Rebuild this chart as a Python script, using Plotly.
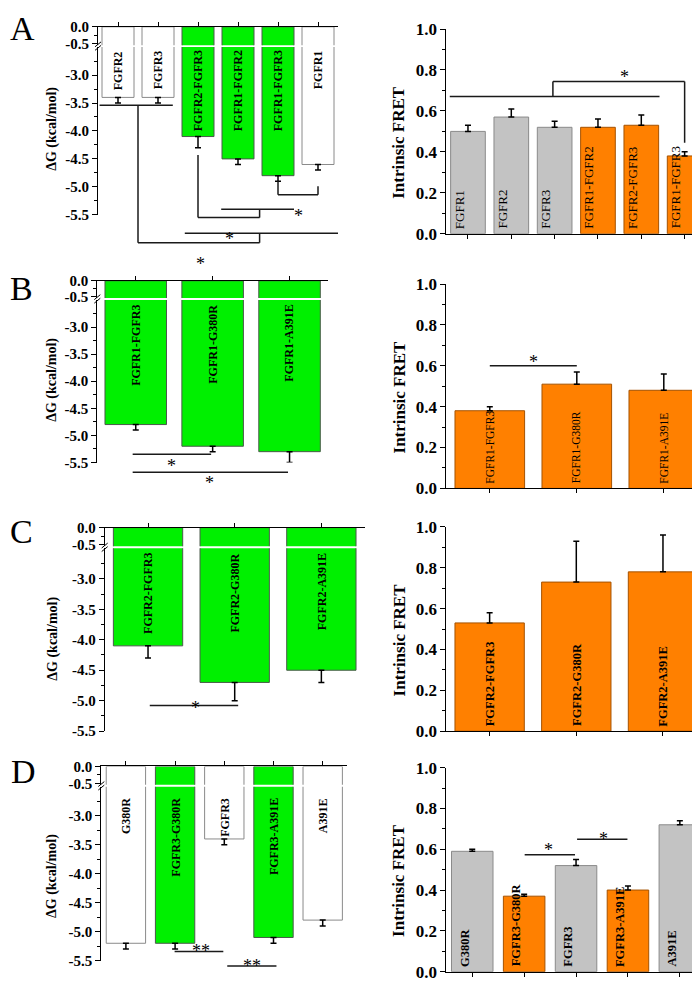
import plotly.graph_objects as go

W, H = 700, 981
FONT = "Liberation Serif, 'Times New Roman', serif"
GREEN = "#00F000"
ORANGE = "#FF8000"
GRAY = "#C3C3C3"
WHITE = "#FFFFFF"

# ---------------- data ----------------
# Panel A
A_dg_labels = ["FGFR2", "FGFR3", "FGFR2-FGFR3", "FGFR1-FGFR2", "FGFR1-FGFR3", "FGFR1"]
A_dg_values = [-3.4, -3.4, -4.1, -4.5, -4.8, -4.6]
A_dg_errors = [0.1, 0.1, 0.2, 0.1, 0.1, 0.1]
A_dg_kind = ["m", "m", "h", "h", "h", "m"]
A_fret_labels = ["FGFR1", "FGFR2", "FGFR3", "FGFR1-FGFR2", "FGFR2-FGFR3", "FGFR1-FGFR3"]
A_fret_values = [0.50, 0.57, 0.52, 0.52, 0.53, 0.38]
A_fret_errors = [0.03, 0.04, 0.03, 0.04, 0.05, 0.02]
A_fret_kind = ["m", "m", "m", "h", "h", "h"]

# Panel B
B_dg_labels = ["FGFR1-FGFR3", "FGFR1-G380R", "FGFR1-A391E"]
B_dg_values = [-4.8, -5.2, -5.3]
B_dg_errors = [0.1, 0.1, 0.2]
B_dg_kind = ["h", "h", "h"]
B_fret_labels = ["FGFR1-FGFR3", "FGFR1-G380R", "FGFR1-A391E"]
B_fret_values = [0.38, 0.51, 0.48]
B_fret_errors = [0.02, 0.06, 0.08]
B_fret_kind = ["h", "h", "h"]

# Panel C
C_dg_labels = ["FGFR2-FGFR3", "FGFR2-G380R", "FGFR2-A391E"]
C_dg_values = [-4.1, -4.7, -4.5]
C_dg_errors = [0.2, 0.3, 0.2]
C_dg_kind = ["h", "h", "h"]
C_fret_labels = ["FGFR2-FGFR3", "FGFR2-G380R", "FGFR2-A391E"]
C_fret_values = [0.53, 0.73, 0.78]
C_fret_errors = [0.05, 0.20, 0.18]
C_fret_kind = ["h", "h", "h"]

# Panel D
D_dg_labels = ["G380R", "FGFR3-G380R", "FGFR3", "FGFR3-A391E", "A391E"]
D_dg_values = [-5.2, -5.2, -3.4, -5.1, -4.8]
D_dg_errors = [0.1, 0.1, 0.1, 0.1, 0.1]
D_dg_kind = ["m", "h", "m", "h", "m"]
D_fret_labels = ["G380R", "FGFR3-G380R", "FGFR3", "FGFR3-A391E", "A391E"]
D_fret_values = [0.59, 0.37, 0.52, 0.40, 0.72]
D_fret_errors = [0.01, 0.01, 0.03, 0.02, 0.02]
D_fret_kind = ["m", "h", "m", "h", "m"]

# significance markers: bracket polylines (category index, value) and star labels
A_dg_brackets = [
    [(-0.46, -3.54), (1.37, -3.54)],
    [(0.5, -3.54), (0.5, -6.0), (3.54, -6.0), (3.54, -5.83)],
    [(1.67, -5.83), (5.5, -5.83)],
    [(2.0, -4.43), (2.0, -5.55), (3.54, -5.55), (3.54, -5.40)],
    [(2.58, -5.40), (4.4, -5.40)],
    [(4.0, -4.9), (4.0, -5.14), (5.0, -5.14), (5.0, -4.99)],
]
A_dg_stars = [(2.07, -6.11, "*"), (2.78, -5.66, "*"), (4.52, -5.25, "*")]
A_fret_brackets = [
    [(-0.42, 0.671), (4.42, 0.671)],
    [(1.96, 0.671), (1.96, 0.744), (5.0, 0.744), (5.0, 0.445)],
]
A_fret_stars = [(3.62, 0.779, "*")]

B_dg_brackets = [
    [(-0.04, -5.35), (0.98, -5.35)],
    [(-0.04, -5.68), (1.98, -5.68)],
]
B_dg_stars = [(0.47, -5.50, "*"), (0.96, -5.82, "*")]
B_fret_brackets = [[(0.0, 0.60), (1.0, 0.60)]]
B_fret_stars = [(0.5, 0.635, "*")]

C_dg_brackets = [[(0.02, -5.08), (1.04, -5.08)]]
C_dg_stars = [(0.55, -5.26, "*")]
C_fret_brackets = []
C_fret_stars = []

D_dg_brackets = [
    [(0.99, -5.34), (1.98, -5.34)],
    [(2.06, -5.59), (3.06, -5.59)],
]
D_dg_stars = [(1.52, -5.49, "**"), (2.57, -5.74, "**")]
D_fret_brackets = [
    [(1.01, 0.573), (1.98, 0.573)],
    [(2.02, 0.649), (2.99, 0.649)],
]
D_fret_stars = [(1.47, 0.611, "*"), (2.52, 0.667, "*")]

LOW_TICKS = [-3.0, -3.5, -4.0, -4.5, -5.0, -5.5]
TOP_TICKS = [0.0, -0.5]
FRET_TICKS = [0.0, 0.2, 0.4, 0.6, 0.8, 1.0]

# ---------------- layout geometry (pixels) ----------------
GEOM = {
    "A": dict(lx=(90, 330), top=(10, 28.7), low=(30.7, 201.7),
              rx=(438.3, 698.3), ry=(221, 12.3),
              lt=(44, 114), rt=(391, 128.3), letter=(14, 12), lab_y=-2.53,
              rshift=-9, rbold=False, rsize=13),
    "B": dict(lx=(89.3, 320), top=(269, 286.5), low=(288.5, 454.3),
              rx=(438.3, 699.3), ry=(480.7, 272.3),
              lt=(44, 370), rt=(391, 388), letter=(13, 277), lab_y=-2.55,
              rshift=0, rbold=False, rsize=11.5),
    "C": dict(lx=(96.7, 356.7), top=(520.7, 539.8), low=(541.8, 728.3),
              rx=(438.3, 698.3), ry=(728.3, 520),
              lt=(45, 634), rt=(391, 635.7), letter=(13, 525), lab_y=-2.55,
              rshift=0, rbold=True, rsize=12.5),
    "D": dict(lx=(93.3, 339.3), top=(764.3, 783), low=(785, 962.3),
              rx=(438.3, 697.8), ry=(973.5, 765.5),
              lt=(44, 876), rt=(391, 881), letter=(15, 769), lab_y=-2.66,
              rshift=-8, rbold=True, rsize=12.5),
}

panels = [
    dict(name="A", dgl=A_dg_labels, dgv=A_dg_values, dge=A_dg_errors, dgk=A_dg_kind,
         frl=A_fret_labels, frv=A_fret_values, fre=A_fret_errors, frk=A_fret_kind,
         dgb=A_dg_brackets, dgs=A_dg_stars, frb=A_fret_brackets, frs=A_fret_stars),
    dict(name="B", dgl=B_dg_labels, dgv=B_dg_values, dge=B_dg_errors, dgk=B_dg_kind,
         frl=B_fret_labels, frv=B_fret_values, fre=B_fret_errors, frk=B_fret_kind,
         dgb=B_dg_brackets, dgs=B_dg_stars, frb=B_fret_brackets, frs=B_fret_stars),
    dict(name="C", dgl=C_dg_labels, dgv=C_dg_values, dge=C_dg_errors, dgk=C_dg_kind,
         frl=C_fret_labels, frv=C_fret_values, fre=C_fret_errors, frk=C_fret_kind,
         dgb=C_dg_brackets, dgs=C_dg_stars, frb=C_fret_brackets, frs=C_fret_stars),
    dict(name="D", dgl=D_dg_labels, dgv=D_dg_values, dge=D_dg_errors, dgk=D_dg_kind,
         frl=D_fret_labels, frv=D_fret_values, fre=D_fret_errors, frk=D_fret_kind,
         dgb=D_dg_brackets, dgs=D_dg_stars, frb=D_fret_brackets, frs=D_fret_stars),
]

LOW_RNG = [-5.5, -2.5]
TOP_RNG = [-0.54, 0.0]
FRET_RNG = [0.0, 1.0]

DG_FILL = {"m": WHITE, "h": GREEN}
DG_LINE = {"m": "#8a8a8a", "h": "#4a5a4a"}
FR_FILL = {"m": GRAY, "h": ORANGE}
FR_LINE = {"m": "#8a8a8a", "h": "#a55200"}


def fx(px):
    return px / W


def fy(px):
    return 1 - px / H


def axname(letter, k):
    return f"{letter}axis" if k == 1 else f"{letter}axis{k}"


def axref(letter, k):
    return letter if k == 1 else f"{letter}{k}"


def to_paper(v, rng, dom):
    return dom[0] + (v - rng[0]) / (rng[1] - rng[0]) * (dom[1] - dom[0])


BASE_AX = dict(showline=True, linecolor="black", linewidth=1, showgrid=False,
               zeroline=False, ticks="outside", tickcolor="black", tickwidth=1,
               fixedrange=True)


def tfont(size, bold=True):
    return dict(family=FONT, size=size, color="black", weight="bold" if bold else "normal")


STAR_FONT = dict(family=FONT, size=18, color="black")

fig = go.Figure()
layout = dict(width=W, height=H, margin=dict(l=0, r=0, t=0, b=0),
              paper_bgcolor="white", plot_bgcolor="rgba(0,0,0,0)",
              showlegend=False, font=dict(family=FONT, color="black"),
              hovermode=False)
shapes = []
annotations = []

k = 0
for p in panels:
    g = GEOM[p["name"]]
    kt, kb, kr = k + 1, k + 2, k + 3
    k += 3
    n = len(p["dgl"])
    xs = list(range(n))
    xdom = [fx(g["lx"][0]), fx(g["lx"][1])]
    top_dom = [fy(g["top"][1]), fy(g["top"][0])]
    low_dom = [fy(g["low"][1]), fy(g["low"][0])]

    # ---- left (ΔG) broken axis: top segment ----
    layout[axname("x", kt)] = dict(BASE_AX, domain=xdom, anchor=axref("y", kt), side="top",
                                   range=[-0.5, n - 0.5], tickmode="array", tickvals=xs,
                                   showticklabels=False, ticklen=4)
    layout[axname("y", kt)] = dict(BASE_AX, domain=top_dom, anchor=axref("x", kt),
                                   range=TOP_RNG, tickmode="array", tickvals=TOP_TICKS,
                                   ticktext=[f"{v:.1f}" for v in TOP_TICKS], ticklen=5,
                                   tickfont=tfont(15),
                                   minor=dict(tickmode="array", tickvals=[-0.25], ticks="outside",
                                              ticklen=3, tickcolor="black"))
    # ---- left lower segment ----
    layout[axname("x", kb)] = dict(domain=xdom, anchor=axref("y", kb), range=[-0.5, n - 0.5],
                                   visible=False, fixedrange=True)
    layout[axname("y", kb)] = dict(BASE_AX, domain=low_dom, anchor=axref("x", kb),
                                   range=LOW_RNG, tickmode="array", tickvals=LOW_TICKS,
                                   ticktext=[f"{v:.1f}" for v in LOW_TICKS], ticklen=5,
                                   tickfont=tfont(15),
                                   minor=dict(tickmode="array",
                                              tickvals=[v + 0.25 for v in LOW_TICKS],
                                              ticks="outside", ticklen=3, tickcolor="black"))

    dg_fill = [DG_FILL[c] for c in p["dgk"]]
    dg_line = [DG_LINE[c] for c in p["dgk"]]
    fig.add_trace(go.Bar(x=xs, y=p["dgv"], xaxis=axref("x", kt), yaxis=axref("y", kt),
                         width=0.8, marker=dict(color=dg_fill, line=dict(color=dg_line, width=1))))
    fig.add_trace(go.Bar(x=xs, y=p["dgv"], xaxis=axref("x", kb), yaxis=axref("y", kb),
                         width=0.8, marker=dict(color=dg_fill, line=dict(color=dg_line, width=1)),
                         error_y=dict(type="data", symmetric=False, array=[0] * n,
                                      arrayminus=p["dge"], color="black", thickness=1.5, width=3)))
    for i, lab in enumerate(p["dgl"]):
        annotations.append(dict(x=i, y=g["lab_y"], xref=axref("x", kb), yref=axref("y", kb),
                                text=lab, showarrow=False, textangle=-90, xanchor="center",
                                yanchor="top", font=tfont(12)))

    for poly in p["dgb"]:
        for (x0, y0), (x1, y1) in zip(poly[:-1], poly[1:]):
            shapes.append(dict(type="line", xref=axref("x", kb), yref="paper",
                               x0=x0, x1=x1, y0=to_paper(y0, LOW_RNG, low_dom),
                               y1=to_paper(y1, LOW_RNG, low_dom),
                               line=dict(color="#1a1a1a", width=1.5)))
    for sx, sy, st in p["dgs"]:
        annotations.append(dict(x=sx, y=to_paper(sy, LOW_RNG, low_dom), xref=axref("x", kb),
                                yref="paper", text=st, showarrow=False, yshift=-3,
                                font=STAR_FONT))

    # break marks on the y axis
    gap = (g["top"][1] + g["low"][0]) / 2
    ax_x = g["lx"][0]
    for dy in (-1.8, 1.8):
        shapes.append(dict(type="line", xref="paper", yref="paper",
                           x0=fx(ax_x - 3), x1=fx(ax_x + 3),
                           y0=fy(gap + dy + 2.5), y1=fy(gap + dy - 2.5),
                           line=dict(color="black", width=1)))

    # ---- right (FRET) ----
    m = len(p["frl"])
    xr = list(range(m))
    layout[axname("x", kr)] = dict(BASE_AX, domain=[fx(g["rx"][0]), fx(g["rx"][1])],
                                   anchor=axref("y", kr), range=[-0.5, m - 0.5],
                                   tickmode="array", tickvals=xr, showticklabels=False, ticklen=4)
    layout[axname("y", kr)] = dict(BASE_AX, domain=[fy(g["ry"][0]), fy(g["ry"][1])],
                                   anchor=axref("x", kr), range=FRET_RNG, tickmode="array",
                                   tickvals=FRET_TICKS, ticktext=[f"{v:.1f}" for v in FRET_TICKS],
                                   ticklen=5, tickfont=tfont(17),
                                   minor=dict(tickmode="array",
                                              tickvals=[v + 0.1 for v in FRET_TICKS[:-1]],
                                              ticks="outside", ticklen=3, tickcolor="black"))
    fig.add_trace(go.Bar(x=xr, y=p["frv"], xaxis=axref("x", kr), yaxis=axref("y", kr),
                         width=0.8,
                         marker=dict(color=[FR_FILL[c] for c in p["frk"]],
                                     line=dict(color=[FR_LINE[c] for c in p["frk"]], width=1)),
                         error_y=dict(type="data", symmetric=False, array=p["fre"],
                                      arrayminus=[0] * m, color="black", thickness=1.5, width=3)))
    for i, lab in enumerate(p["frl"]):
        annotations.append(dict(x=i, y=0, xref=axref("x", kr), yref=axref("y", kr),
                                text=lab, showarrow=False, textangle=-90, xanchor="center",
                                yanchor="bottom", yshift=3, xshift=g["rshift"],
                                font=tfont(g["rsize"], g["rbold"])))
    for poly in p["frb"]:
        for (x0, y0), (x1, y1) in zip(poly[:-1], poly[1:]):
            shapes.append(dict(type="line", xref=axref("x", kr), yref=axref("y", kr),
                               x0=x0, x1=x1, y0=y0, y1=y1,
                               line=dict(color="#1a1a1a", width=1.5)))
    for sx, sy, st in p["frs"]:
        annotations.append(dict(x=sx, y=sy, xref=axref("x", kr), yref=axref("y", kr),
                                text=st, showarrow=False, yshift=-3, font=STAR_FONT))

    # titles and panel letters
    annotations.append(dict(x=fx(g["lt"][0]), y=fy(g["lt"][1]), xref="paper", yref="paper",
                            text="ΔG (kcal/mol)", showarrow=False, textangle=-90,
                            xanchor="center", yanchor="middle", font=tfont(14)))
    annotations.append(dict(x=fx(g["rt"][0]), y=fy(g["rt"][1]), xref="paper", yref="paper",
                            text="Intrinsic FRET", showarrow=False, textangle=-90,
                            xanchor="center", yanchor="middle", font=tfont(17)))
    annotations.append(dict(x=fx(g["letter"][0]), y=fy(g["letter"][1]), xref="paper",
                            yref="paper", text=p["name"], showarrow=False,
                            xanchor="center", yanchor="middle",
                            font=dict(family=FONT, size=34, color="black")))

layout["shapes"] = shapes
layout["annotations"] = annotations
fig.update_layout(**layout)
fig.write_html("out.html")
